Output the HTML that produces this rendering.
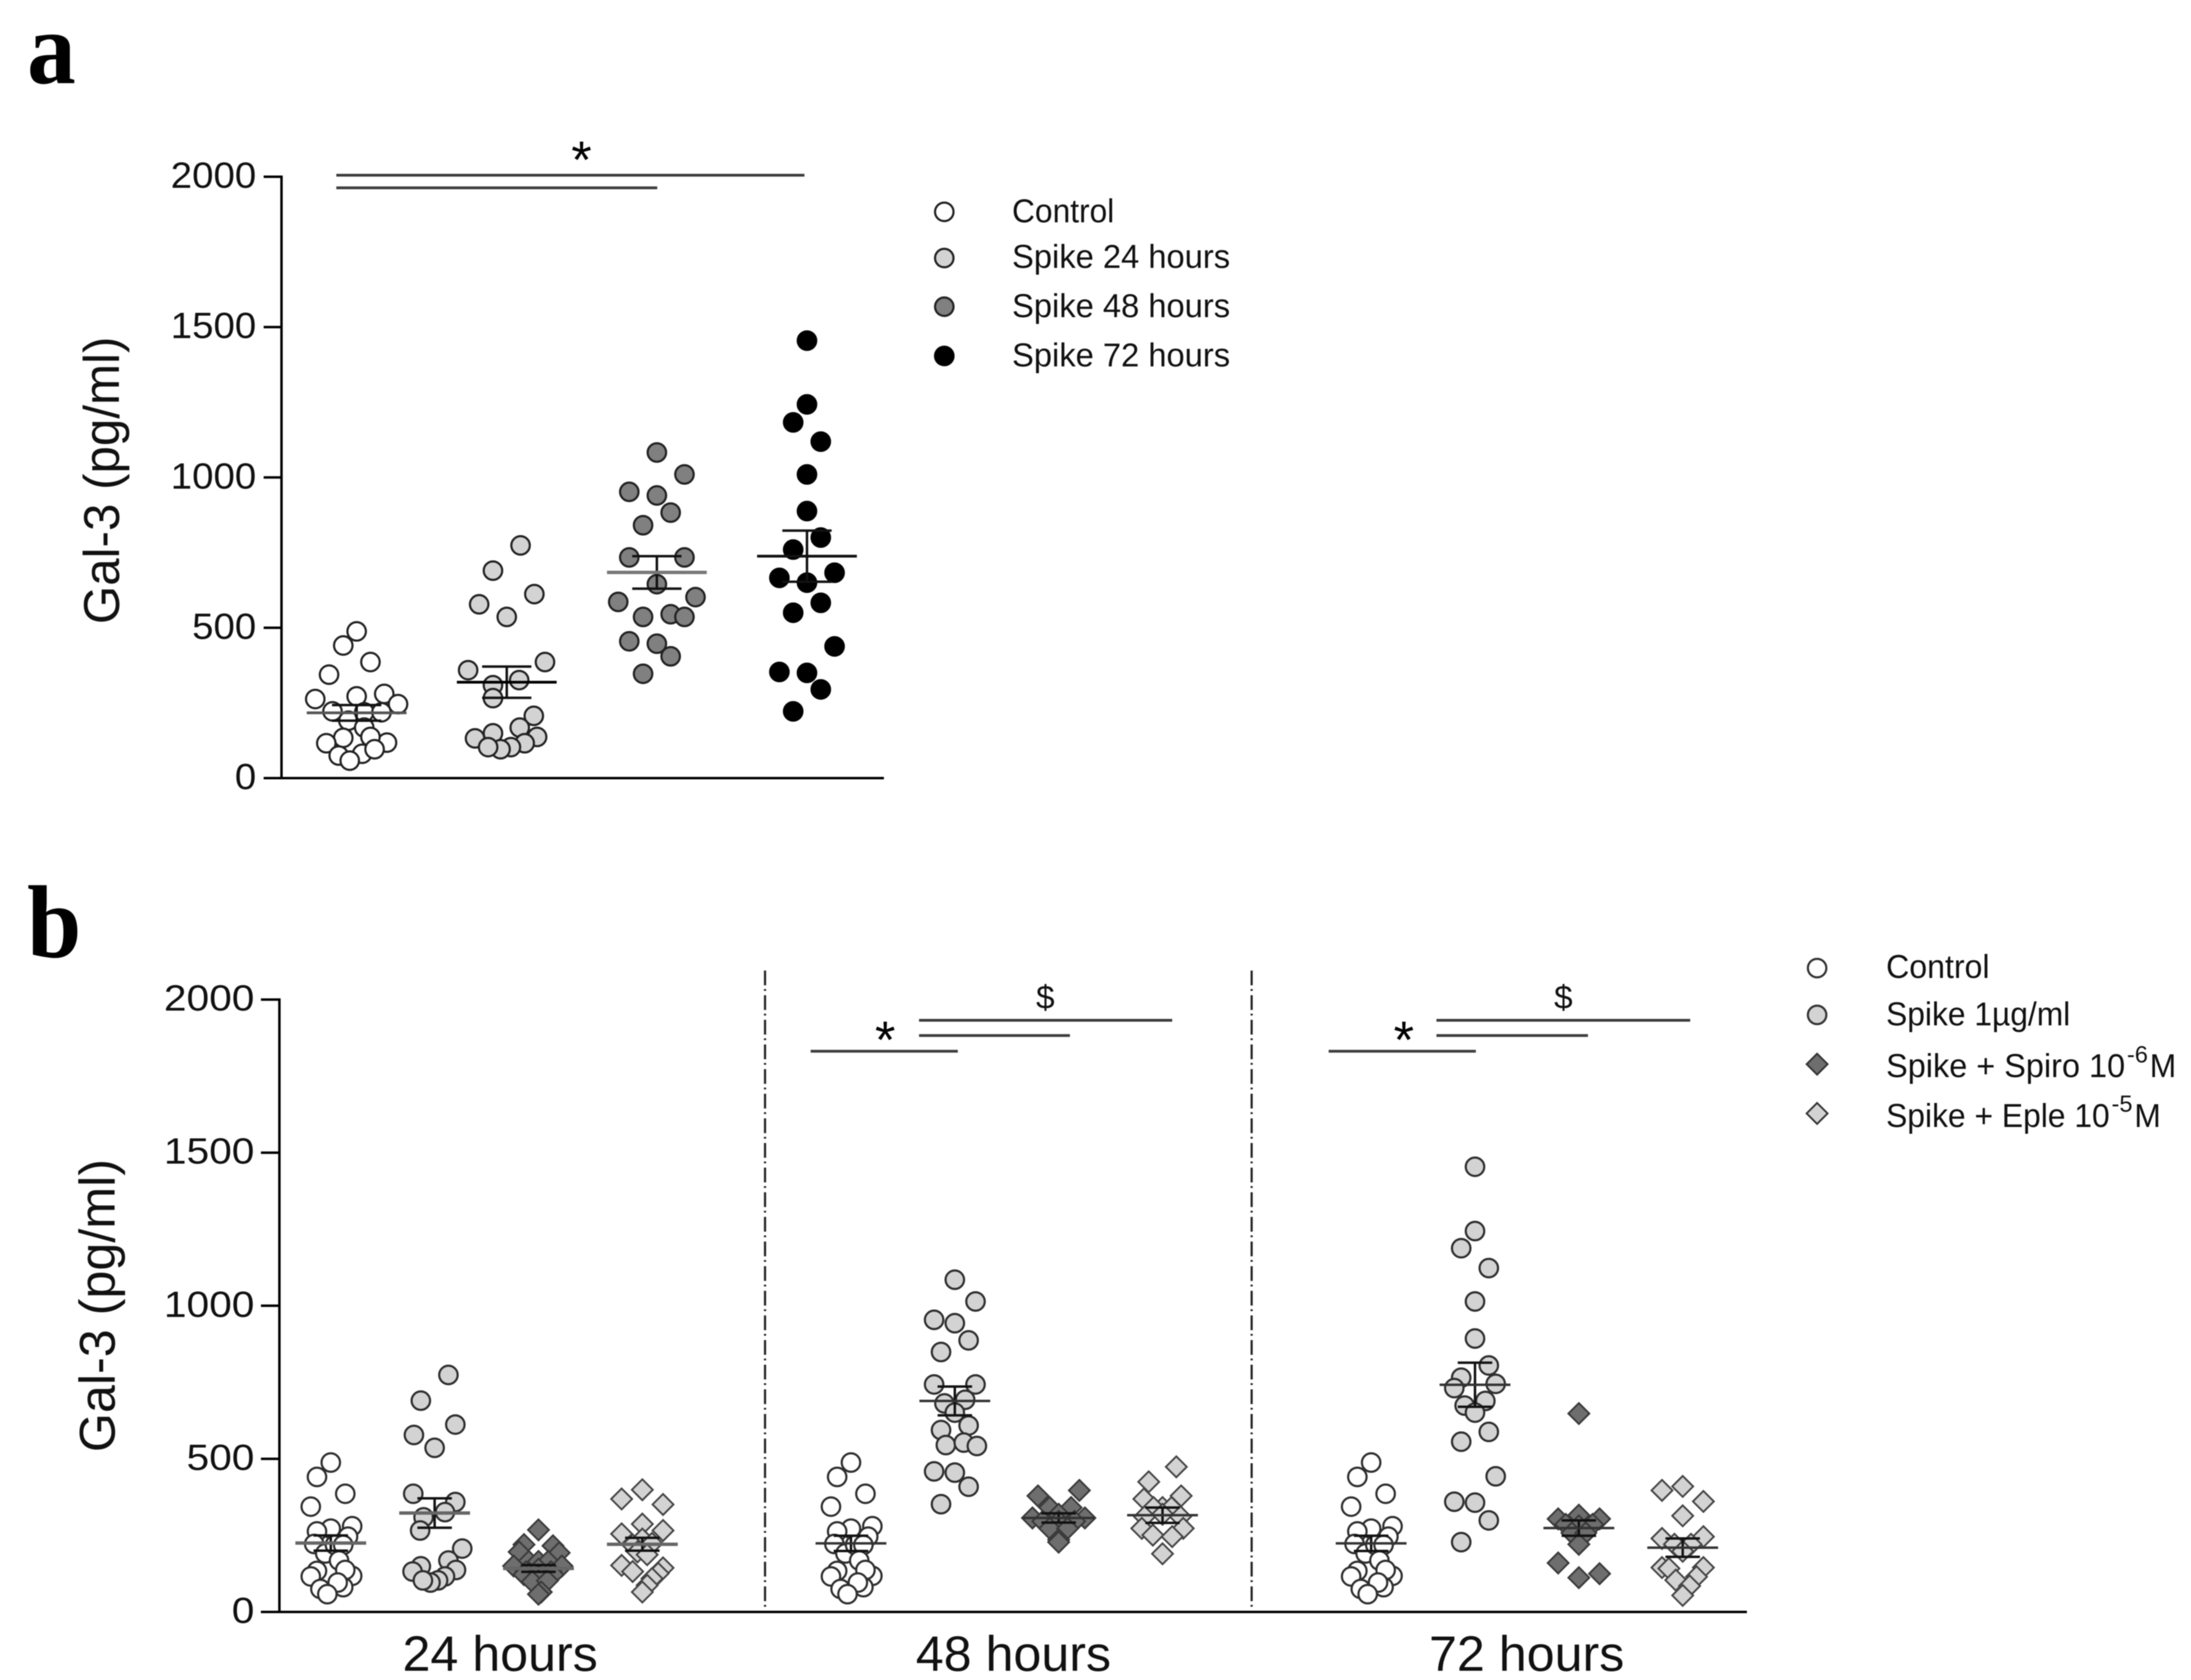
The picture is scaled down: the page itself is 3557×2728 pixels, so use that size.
<!DOCTYPE html>
<html lang="en">
<head>
<meta charset="utf-8">
<title>Gal-3 scatter plots</title>
<style>
html,body{margin:0;padding:0;background:#fff;}
svg{display:block;filter:blur(0.7px);}
text{font-family:"Liberation Sans",Arial,sans-serif;fill:#111;}
.panel-letter{font-family:"Liberation Serif","Times New Roman",serif;font-weight:bold;font-size:168px;fill:#000;}
.leg{font-size:54px;}
.ytitle{font-size:82px;}
.xlab{font-size:81px;}
.sig{stroke:#3c3c3c;stroke-width:4.5;}
.star{font-size:85px;text-anchor:middle;fill:#000;}
.dollar{font-size:54px;text-anchor:middle;}
.sep{stroke:#222;stroke-width:3.5;stroke-dasharray:24 6 3 7;}
</style>
</head>
<body>
<svg id="figure" xmlns="http://www.w3.org/2000/svg" width="3557" height="2728" viewBox="0 0 3557 2728">
<rect x="0" y="0" width="3557" height="2728" fill="#fff"/>

<text class="panel-letter" x="44" y="135" textLength="79" lengthAdjust="spacingAndGlyphs">a</text>
<text class="panel-letter" x="44" y="1554" textLength="88" lengthAdjust="spacingAndGlyphs">b</text>

<text class="ytitle" transform="translate(193,780) rotate(-90)" text-anchor="middle" textLength="467" lengthAdjust="spacingAndGlyphs">Gal-3 (pg/ml)</text>
<text class="ytitle" transform="translate(186,2120) rotate(-90)" text-anchor="middle" textLength="476" lengthAdjust="spacingAndGlyphs">Gal-3 (pg/ml)</text>

<!-- Panel a significance -->
<line class="sig" x1="546" x2="1306" y1="284.5" y2="284.5"/>
<line class="sig" x1="546" x2="1067" y1="305" y2="305"/>
<text class="star" x="944" y="289">*</text>

<!-- Panel b separators -->
<line class="sep" x1="1242" x2="1242" y1="1576" y2="2610"/>
<line class="sep" x1="2032" x2="2032" y1="1576" y2="2610"/>

<!-- Panel b significance 48h -->
<line class="sig" x1="1492" x2="1903" y1="1656.7" y2="1656.7"/>
<line class="sig" x1="1492" x2="1737" y1="1681.5" y2="1681.5"/>
<line class="sig" x1="1316" x2="1555" y1="1707" y2="1707"/>
<text class="dollar" x="1697" y="1638">$</text>
<text class="star" x="1437" y="1718">*</text>

<!-- Panel b significance 72h -->
<line class="sig" x1="2332" x2="2744" y1="1656.7" y2="1656.7"/>
<line class="sig" x1="2332" x2="2578" y1="1681.5" y2="1681.5"/>
<line class="sig" x1="2157" x2="2396" y1="1707" y2="1707"/>
<text class="dollar" x="2538" y="1638">$</text>
<text class="star" x="2279" y="1718">*</text>

<!-- Panel a legend -->
<g>
<g>
<circle cx="1533" cy="344" r="15" fill="#fff" stroke="#222" stroke-width="3.5"/>
<text class="leg" x="1643" y="361" textLength="166" lengthAdjust="spacingAndGlyphs">Control</text>
</g>
<g>
<circle cx="1533" cy="419" r="15" fill="#d3d3d3" stroke="#222" stroke-width="3.5"/>
<text class="leg" x="1643" y="435" textLength="354" lengthAdjust="spacingAndGlyphs">Spike 24 hours</text>
</g>
<g>
<circle cx="1533" cy="498" r="15" fill="#808080" stroke="#222" stroke-width="3.5"/>
<text class="leg" x="1643" y="515" textLength="354" lengthAdjust="spacingAndGlyphs">Spike 48 hours</text>
</g>
<g>
<circle cx="1533" cy="578" r="15" fill="#000" stroke="#000" stroke-width="3.5"/>
<text class="leg" x="1643" y="595" textLength="354" lengthAdjust="spacingAndGlyphs">Spike 72 hours</text>
</g>
</g>

<!-- Panel b legend -->
<g>
<g>
<circle cx="2950" cy="1572" r="15" fill="#fff" stroke="#333" stroke-width="3.5"/>
<text class="leg" x="3062" y="1588" textLength="168" lengthAdjust="spacingAndGlyphs">Control</text>
</g>
<g>
<circle cx="2950" cy="1648" r="15" fill="#d3d3d3" stroke="#333" stroke-width="3.5"/>
<text class="leg" x="3062" y="1665" textLength="299" lengthAdjust="spacingAndGlyphs">Spike 1µg/ml</text>
</g>
<g>
<polygon points="2950,1711 2967,1728 2950,1745 2933,1728" fill="#6e6e6e" stroke="#333" stroke-width="3"/>
<text class="leg" x="3062" y="1749" textLength="388" lengthAdjust="spacingAndGlyphs">Spike + Spiro 10</text>
<text x="3453" y="1725" font-size="38" textLength="34" lengthAdjust="spacingAndGlyphs">-6</text>
<text class="leg" x="3490" y="1749" textLength="43" lengthAdjust="spacingAndGlyphs">M</text>
</g>
<g>
<polygon points="2950,1791 2967,1808 2950,1825 2933,1808" fill="#d3d3d3" stroke="#333" stroke-width="3"/>
<text class="leg" x="3062" y="1830" textLength="363" lengthAdjust="spacingAndGlyphs">Spike + Eple 10</text>
<text x="3428" y="1805" font-size="38" textLength="34" lengthAdjust="spacingAndGlyphs">-5</text>
<text class="leg" x="3465" y="1830" textLength="43" lengthAdjust="spacingAndGlyphs">M</text>
</g>
</g>

<g id="panel-a"></g>
<g id="panel-b"></g>
</svg>

<script>
/* Shared tick labels */
const yTicks = [0, 500, 1000, 1500, 2000];
const xLabels = ['24 hours', '48 hours', '72 hours'];

/* Panel a values (pg/ml) and swarm slots */
const controlValues = [488,441,386,344,272,263,280,246,222,191,219,219,168,134,116,118,137,75,81,96,58];
const aControlSlots = [0,-0.97,1,-2,0,-3,2,3,-1.75,-0.6,0.55,1.8,0.55,-0.97,-2.2,2.2,1,-1.3,0.4,1.3,-0.5];
const spike24Values = [774,690,612,578,536,386,359,326,309,266,207,168,149,132,137,116,103,96,103];
const aSpike24Slots = [1,-1,2,-2,0,2.77,-2.8,0.9,-1,-1,1.96,0.94,-1,-2.3,2.2,1.3,0.3,-0.45,-1.35];
const aSpike48Values = [1083,1010,952,940,883,841,734,734,645,602,586,536,545,536,455,447,405,347];
const aSpike48Slots = [0,2,-2,0,1,-1,-2,2,0,2.8,-2.8,-1,1,2,-2,0,1,-1];
const aSpike72Values = [1455,1243,1183,1119,1010,888,800,760,683,666,650,583,550,438,353,350,295,222];
const aSpike72Slots = [0,0,-1,1,0,0,1,-1,2,-2,0,1,-1,2,-2,0,1,-1];
const aMeans = [217, 319, 684, 738];
const aSems = [26, 52, 54, 85];

/* Panel b values (pg/ml) and swarm slots */
const bControlSlots = [0,-2,2.1,-2.9,0,-2,3.1,2.5,-2.4,-0.8,0.6,1.8,1.2,-2,-2.9,3.1,2.1,-1.5,1.8,1,-0.5];
const bSpike24Slots = [2,-2,3,-3,0,-3.1,3,1.5,-1.6,-2.1,4,2,-2,-3.2,3.1,1.5,0.5,-0.6,-1.7];
const bSpiro24Values = [268,220,216,196,193,165,165,165,150,150,140,131,131,122,122,120,99,102,65,58];
const bSpiro24Slots = [0,-2.1,2.1,-2.8,3,-1.4,0,1.4,-3.6,3.4,0,-1.8,1.8,-2.1,2.1,0,-0.9,1.3,0.4,0];
const bEple24Values = [399,369,351,287,255,266,238,219,224,196,187,152,132,144,126,109,87,65];
const bEple24Slots = [0,-3,3,0,-3,3,0,-1.4,1.4,-0.7,0.7,-3,-1.4,3,2.3,1.4,0.7,0];
const bSpike48Values = [1085,1014,954,943,887,849,743,743,681,693,651,594,609,545,553,542,459,455,409,352];
const bSpike48Slots = [0,3,-3,0,2,-2,-3,3,-1.5,1.5,0,-2,2,-1.3,1.3,3.2,-3,0,2,-2];
const bSpiro48Values = [397,379,341,341,307,307,319,296,296,296,273,273,236,228];
const bSpiro48Slots = [3,-3,-1.3,1.8,-3.8,3.8,0,-2.3,2.3,0,-1.3,1.3,0,0];
const bEple48Values = [474,425,369,379,341,341,341,311,311,319,273,273,251,246,190];
const bEple48Slots = [2,-2,-2.7,2.7,0,-1.3,1.3,-2.6,2.6,0,-3,3,-1.4,1.4,0];
const bSpike72Values = [1454,1244,1188,1123,1014,893,805,765,731,745,674,689,651,588,556,443,360,357,299,228];
const bSpike72Slots = [0,0,-2,2,0,0,2,-2,-3,3,-1.5,1.5,0,2,-2,3,-3,0,2,-2];
const bSpiro72Values = [648,304,316,304,286,286,281,258,258,221,160,112,125];
const bSpiro72Slots = [0,-3,0,3,-1.9,2,0,-1,1,0,-3,0,3];
const bEple72Values = [410,397,361,314,240,246,221,221,198,145,142,145,115,104,85,54];
const bEple72Slots = [0,-3,3,0,-3,3,-1.2,1.2,0,-3,-2,3,2,-1,1,0];
const bMeans = [225,323,142,221, 224,689,307,316, 224,742,274,210];
const bSems = [25,48,11,21, 25,47,15,25, 25,72,25,30];

const NS = 'http://www.w3.org/2000/svg';
const yA = v => 1263.5 - v * 0.48825;
const yB = v => 2617.5 - v * 0.4972;
const xA = i => 579 + 243.7 * i;
const xB = (cluster, series) => 537 + 844.5 * cluster + 168.6 * series;
const xCluster = c => 812 + 833.25 * c;

function line(parent, name, x1, y1, x2, y2, color, width) {
  const el = document.createElementNS(NS, 'line');
  el.setAttribute('x1', x1);
  el.setAttribute('y1', y1);
  el.setAttribute('x2', x2);
  el.setAttribute('y2', y2);
  el.setAttribute('stroke', color);
  el.setAttribute('stroke-width', width);
  
  
  parent.appendChild(el);
}

function label(parent, name, str, x, y, size, anchor, len) {
  const el = document.createElementNS(NS, 'text');
  el.setAttribute('x', x);
  el.setAttribute('y', y);
  el.setAttribute('font-size', size);
  el.setAttribute('text-anchor', anchor);
  el.setAttribute('textLength', len);
  el.setAttribute('lengthAdjust', 'spacingAndGlyphs');
  el.textContent = str;
  
  
  parent.appendChild(el);
}

function marker(parent, name, shape, x, y, fill, strokeColor) {
  let el;
  if (shape === 'circle') {
    el = document.createElementNS(NS, 'circle');
    el.setAttribute('cx', x);
    el.setAttribute('cy', y);
    el.setAttribute('r', 15);
    el.setAttribute('stroke-width', 3.5);
  } else {
    el = document.createElementNS(NS, 'polygon');
    el.setAttribute('points', `${x},${y-17} ${x+17},${y} ${x},${y+17} ${x-17},${y}`);
    el.setAttribute('stroke-width', 3);
  }
  el.setAttribute('fill', fill);
  el.setAttribute('stroke', strokeColor);
  
  
  parent.appendChild(el);
}

function series(parent, name, cx, yFn, slotWidth, values, slots, shape, fill, strokeColor) {
  const g = document.createElementNS(NS, 'g');
  
  
  parent.appendChild(g);
  values.forEach((v, i) => {
    marker(g, name + '-point', shape, cx + slots[i] * slotWidth, yFn(v), fill, strokeColor);
  });
}

function meanSem(parent, name, cx, yFn, mean, sem, meanHalf, capHalf, meanColor, meanWidth) {
  line(parent, name + '-error-bar', cx, yFn(mean + sem), cx, yFn(mean - sem), '#111', 4);
  line(parent, name + '-error-cap-top', cx - capHalf, yFn(mean + sem), cx + capHalf, yFn(mean + sem), '#111', 4);
  line(parent, name + '-error-cap-bottom', cx - capHalf, yFn(mean - sem), cx + capHalf, yFn(mean - sem), '#111', 4);
  line(parent, name + '-mean-line', cx - meanHalf, yFn(mean), cx + meanHalf, yFn(mean), meanColor, meanWidth);
}

function axes(parent, prefix, axisX, tickLeft, axisRight, yFn, labelRight, charWidth) {
  line(parent, prefix + '-y-axis', axisX, yFn(2000) - 2, axisX, yFn(0) + 2, '#000', 4);
  line(parent, prefix + '-x-axis', tickLeft, yFn(0), axisRight, yFn(0), '#000', 4);
  yTicks.forEach(t => {
    line(parent, prefix + '-y-tick', tickLeft, yFn(t), axisX, yFn(t), '#000', 4);
    const s = String(t);
    label(parent, prefix + '-y-tick-label', s, labelRight, yFn(t) + 18, 59, 'end', s.length * charWidth);
  });
}

/* Panel a */
const panelA = document.getElementById('panel-a');
axes(panelA, 'panel-a', 457, 428, 1435, yA, 416, 34.7);
series(panelA, 'a-control', xA(0), yA, 22.4, controlValues, aControlSlots, 'circle', '#fff', '#222');
series(panelA, 'a-spike-24', xA(1), yA, 22.4, spike24Values, aSpike24Slots, 'circle', '#d3d3d3', '#222');
series(panelA, 'a-spike-48', xA(2), yA, 22.4, aSpike48Values, aSpike48Slots, 'circle', '#808080', '#222');
series(panelA, 'a-spike-72', xA(3), yA, 22.4, aSpike72Values, aSpike72Slots, 'circle', '#000', '#000');
const aMeanColors = ['#555', '#000', '#777', '#111'];
['a-control', 'a-spike-24', 'a-spike-48', 'a-spike-72'].forEach((n, i) => {
  meanSem(panelA, n, xA(i), yA, aMeans[i], aSems[i], 81, 40, aMeanColors[i], i === 2 ? 5.5 : 4.5);
});

/* Panel b */
const panelB = document.getElementById('panel-b');
axes(panelB, 'panel-b', 453.6, 423.6, 2836, yB, 413, 36.7);
xLabels.forEach((s, c) => {
  label(panelB, 'x-category-label', s, xCluster(c), 2713, 81, 'middle', 317);
});
const L = '#d3d3d3', D = '#6e6e6e', O = '#2e2e2e';
series(panelB, 'b-24h-control', xB(0,0), yB, 11.2, controlValues, bControlSlots, 'circle', '#fff', O);
series(panelB, 'b-24h-spike', xB(0,1), yB, 11.2, spike24Values, bSpike24Slots, 'circle', L, O);
series(panelB, 'b-24h-spiro', xB(0,2), yB, 11.2, bSpiro24Values, bSpiro24Slots, 'diamond', D, '#3a3a3a');
series(panelB, 'b-24h-eple', xB(0,3), yB, 11.2, bEple24Values, bEple24Slots, 'diamond', L, '#444');
series(panelB, 'b-48h-control', xB(1,0), yB, 11.2, controlValues, bControlSlots, 'circle', '#fff', O);
series(panelB, 'b-48h-spike', xB(1,1), yB, 11.2, bSpike48Values, bSpike48Slots, 'circle', L, O);
series(panelB, 'b-48h-spiro', xB(1,2), yB, 11.2, bSpiro48Values, bSpiro48Slots, 'diamond', D, '#3a3a3a');
series(panelB, 'b-48h-eple', xB(1,3), yB, 11.2, bEple48Values, bEple48Slots, 'diamond', L, '#444');
series(panelB, 'b-72h-control', xB(2,0), yB, 11.2, controlValues, bControlSlots, 'circle', '#fff', O);
series(panelB, 'b-72h-spike', xB(2,1), yB, 11.2, bSpike72Values, bSpike72Slots, 'circle', L, O);
series(panelB, 'b-72h-spiro', xB(2,2), yB, 11.2, bSpiro72Values, bSpiro72Slots, 'diamond', D, '#3a3a3a');
series(panelB, 'b-72h-eple', xB(2,3), yB, 11.2, bEple72Values, bEple72Slots, 'diamond', L, '#444');
bMeans.forEach((m, i) => {
  const c = Math.floor(i / 4);
  const s = i % 4;
  meanSem(panelB, 'b-group-' + i, xB(c, s), yB, m, bSems[i], 57.5, 28, c === 0 ? '#666' : '#333', c === 0 ? 5.5 : 4);
});
</script>
</body>
</html>
